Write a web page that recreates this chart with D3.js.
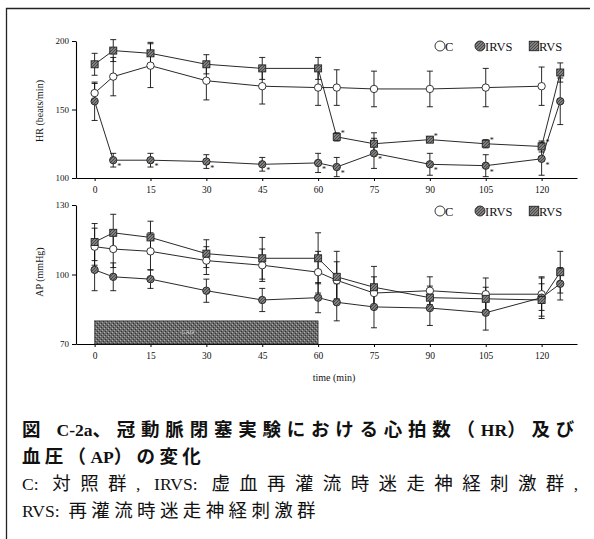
<!DOCTYPE html>
<html>
<head>
<meta charset="utf-8">
<script src="https://cdn.jsdelivr.net/npm/d3@7"></script>
<style>
  body { margin: 0; background: #fff; }
  svg { display: block; }
  .tick text, .axis-label, .legend-text { font-family: "Liberation Serif", serif; fill: #111; }
  .caption { font-family: "Noto Sans CJK JP", sans-serif; fill: #111; }
  .caption .lat { font-family: "Liberation Serif", serif; }
</style>
</head>
<body>
<svg id="chart" width="594" height="539"></svg>
<script>
// time points (min)
const times = [0, 5, 15, 30, 45, 60, 65, 75, 90, 105, 120, 125];
const xTicks = [0, 15, 30, 45, 60, 75, 90, 105, 120];

// heart rate (beats/min), mean and SEM
const hrC = [162, 174, 182, 171, 167, 166, 166, 165, 165, 166, 167];
const hrCErr = [7, 14, 16, 14, 13, 13, 13, 13, 13, 14, 14];
const hrIRVS = [156, 113, 113, 112, 110, 111, 108, 118, 110, 109, 114, 156];
const hrIRVSErr = [14, 5, 5, 5, 5, 7, 7, 11, 8, 8, 12, 17];
const hrRVS = [183, 193, 191, 183, 180, 180, 130, 125, 128, 125, 123, 177];
const hrRVSErr = [8, 8, 8, 7, 8, 8, 3, 8, 2, 3, 4, 7];
const hrIRVSStar = [1, 2, 3, 4, 5, 6, 7, 8, 9, 10];
const hrRVSStar = [6, 8, 9, 10];

// arterial pressure (mmHg), mean and SEM
const apC = [112, 111, 110, 106, 104, 101, 97.5, 92, 93, 91.5, 91.5];
const apCErr = [8, 8, 8, 6, 7, 9, 8, 7, 6, 7, 7];
const apIRVS = [102, 99, 98, 93, 89, 90, 88, 86, 85.5, 83.5, 90, 96];
const apIRVSErr = [9, 6, 4, 5, 5, 6.5, 8, 9, 7.5, 7.5, 9, 7];
const apRVS = [114, 118, 116, 109, 107, 107, 99, 94.5, 90, 89.5, 89, 101];
const apRVSErr = [8, 8, 7, 6, 9, 11, 11, 9, 5, 5, 7, 9];

// occlusion period shown as a bar
const occlusion = { start: 0, end: 60, top: 80, label: "CAO" };

const captionLines = [
  "図 C-2a、冠動脈閉塞実験における心拍数（HR）及び",
  "血圧（AP）の変化",
  "C: 対照群, IRVS: 虚血再灌流時迷走神経刺激群,",
  "RVS: 再灌流時迷走神経刺激群"
];

const svg = d3.select("#chart");
svg.append("rect").attr("width", 594).attr("height", 539).attr("fill", "#fff");

// textures
const defs = svg.append("defs");
const mk = defs.append("pattern").attr("id", "hatch").attr("patternUnits", "userSpaceOnUse")
  .attr("width", 3).attr("height", 3);
mk.append("rect").attr("width", 3).attr("height", 3).attr("fill", "#808080");
mk.append("path").attr("d", "M0,3 L3,0").attr("stroke", "#3a3a3a").attr("stroke-width", 0.8);
const bar = defs.append("pattern").attr("id", "barfill").attr("patternUnits", "userSpaceOnUse")
  .attr("width", 4).attr("height", 4);
bar.append("rect").attr("width", 4).attr("height", 4).attr("fill", "#6a6a6a");
bar.append("rect").attr("x", 0).attr("y", 0).attr("width", 1).attr("height", 1).attr("fill", "#b0b0b0");
bar.append("rect").attr("x", 2).attr("y", 2).attr("width", 1).attr("height", 1).attr("fill", "#a0a0a0");
bar.append("rect").attr("x", 3).attr("y", 1).attr("width", 1).attr("height", 1).attr("fill", "#333");
bar.append("rect").attr("x", 1).attr("y", 3).attr("width", 1).attr("height", 1).attr("fill", "#333");

// frame lines (left and top)
svg.append("line").attr("x1", 6.5).attr("x2", 6.5).attr("y1", 8).attr("y2", 539)
  .attr("stroke", "#222").attr("stroke-width", 1.3);
svg.append("line").attr("x1", 6).attr("x2", 590).attr("y1", 8.5).attr("y2", 8.5)
  .attr("stroke", "#222").attr("stroke-width", 1.3);

const x = d3.scaleLinear().domain([-5, 129.5]).range([76, 577]);

function panel(opts) {
  const y = d3.scaleLinear().domain(opts.yDomain).range(opts.yRange);
  const g = svg.append("g");

  // x axis
  const xa = g.append("g").attr("transform", `translate(0,${opts.yRange[0]})`)
    .call(d3.axisBottom(x).tickValues(xTicks).tickSize(3).tickPadding(5).tickSizeOuter(0));
  xa.select(".domain").attr("stroke-width", 1.1);
  xa.selectAll("text").attr("font-size", 9.5);

  // y axis
  const ya = g.append("g").attr("transform", `translate(76,0)`)
    .call(d3.axisLeft(y).tickValues(opts.yTicks).tickSize(4).tickPadding(3).tickSizeOuter(0));
  ya.select(".domain").attr("stroke-width", 1.1);
  ya.selectAll("text").attr("font-size", 9);

  g.append("text").attr("class", "axis-label")
    .attr("transform", `translate(43,${opts.labelY}) rotate(-90)`)
    .attr("text-anchor", "middle").attr("font-size", 10).text(opts.label);

  if (opts.bar) {
    const b = opts.bar;
    g.append("rect").attr("x", x(b.start)).attr("width", x(b.end) - x(b.start))
      .attr("y", y(b.top)).attr("height", y(opts.yDomain[0]) - y(b.top))
      .attr("fill", "url(#barfill)").attr("stroke", "#333").attr("stroke-width", 0.6);
    g.append("text").attr("x", x(25)).attr("y", (y(b.top) + y(opts.yDomain[0])) / 2 + 2)
      .attr("text-anchor", "middle").attr("font-size", 6).attr("fill", "#ccc")
      .attr("font-family", "Liberation Serif").text(b.label);
  }

  const line = d3.line().x((d) => x(d.t)).y((d) => y(d.v));
  const toPts = (vals, errs) => vals.map((v, i) => ({ t: times[i], v, e: errs[i], i }));

  opts.series.forEach((s) => {
    const pts = toPts(s.values, s.errors);
    g.append("path").datum(pts).attr("d", line).attr("fill", "none")
      .attr("stroke", "#111").attr("stroke-width", 0.9);
    const eb = g.append("g").attr("stroke", "#111").attr("stroke-width", 0.9);
    pts.forEach((d) => {
      const lo = d.v - d.e;
      const hi = d.v + d.e;
      eb.append("line").attr("x1", x(d.t)).attr("x2", x(d.t)).attr("y1", y(lo)).attr("y2", y(hi));
      eb.append("line").attr("x1", x(d.t) - 3).attr("x2", x(d.t) + 3).attr("y1", y(lo)).attr("y2", y(lo));
      eb.append("line").attr("x1", x(d.t) - 3).attr("x2", x(d.t) + 3).attr("y1", y(hi)).attr("y2", y(hi));
    });
  });

  opts.series.forEach((s) => {
    const pts = toPts(s.values, s.errors);
    drawMarkers(g, pts, s.kind, (d) => x(d.t), (d) => y(d.v));
    if (s.stars) {
      s.stars.forEach((i) => {
        g.append("text").attr("x", x(times[i]) + s.starDx).attr("y", y(s.values[i]) + s.starDy)
          .attr("font-size", 8).attr("font-family", "Liberation Serif").attr("fill", "#111").text("*");
      });
    }
  });

  // legend
  const lg = g.append("g").attr("transform", `translate(0,${opts.legendY})`);
  [["C", "open", 440], ["IRVS", "irvs", 480], ["RVS", "rvs", 534]].forEach(([name, kind, lx]) => {
    drawMarkers(lg, [{}], kind, () => lx, () => 0, 1.35);
    lg.append("text").attr("class", "legend-text").attr("x", lx + 5).attr("y", 4.5)
      .attr("font-size", 12.5).text(name);
  });
}

function drawMarkers(g, pts, kind, fx, fy, scale = 1) {
  if (kind === "rvs") {
    const s = 7 * scale;
    g.selectAll(null).data(pts).join("rect")
      .attr("x", (d) => fx(d) - s / 2).attr("y", (d) => fy(d) - s / 2)
      .attr("width", s).attr("height", s)
      .attr("fill", "url(#hatch)").attr("stroke", "#222").attr("stroke-width", 0.9);
  } else {
    g.selectAll(null).data(pts).join("circle")
      .attr("cx", fx).attr("cy", fy).attr("r", 3.7 * scale)
      .attr("fill", kind === "open" ? "#fff" : "url(#hatch)")
      .attr("stroke", "#222").attr("stroke-width", 0.9);
  }
}

panel({
  yDomain: [100, 200], yRange: [178, 41], yTicks: [100, 150, 200],
  label: "HR (beats/min)", labelY: 111, legendY: 46,
  series: [
    { values: hrC, errors: hrCErr, kind: "open" },
    { values: hrIRVS, errors: hrIRVSErr, kind: "irvs", stars: hrIRVSStar, starDx: 4, starDy: 9 },
    { values: hrRVS, errors: hrRVSErr, kind: "rvs", stars: hrRVSStar, starDx: 4, starDy: -1 }
  ]
});

panel({
  yDomain: [70, 130], yRange: [344, 205], yTicks: [70, 100, 130],
  label: "AP (mmHg)", labelY: 272, legendY: 211, bar: occlusion,
  series: [
    { values: apC, errors: apCErr, kind: "open" },
    { values: apIRVS, errors: apIRVSErr, kind: "irvs" },
    { values: apRVS, errors: apRVSErr, kind: "rvs" }
  ]
});

svg.append("text").attr("class", "axis-label").attr("x", 334).attr("y", 381)
  .attr("text-anchor", "middle").attr("font-size", 10).text("time (min)");

// caption: latin runs in a serif face; CJK and spaces spread to fill each line
const capLayout = [
  { y: 435.5, size: 18.5, weight: "bold", width: 558 },
  { y: 462.5, size: 18.5, weight: "bold", width: 183 },
  { y: 489.5, size: 18.5, weight: "normal", width: 556 },
  { y: 516.5, size: 18.5, weight: "normal", width: 298 }
];
captionLines.forEach((txt, i) => {
  const c = capLayout[i];
  const t = svg.append("text").attr("class", "caption").attr("x", 22).attr("y", c.y)
    .attr("font-size", c.size).attr("font-weight", c.weight);
  const runs = txt.match(/[\x21-\x7e]+| +|[^\x20-\x7e]+/g);
  const spread = [];
  runs.forEach((r) => {
    const isSpace = /^ +$/.test(r);
    const latin = /^[\x21-\x7e]+$/.test(r);
    const ts = t.append("tspan").text(isSpace ? r.replace(/ /g, "\u00a0") : r);
    if (latin || isSpace) ts.attr("class", "lat").attr("font-size", c.size * 0.95);
    if (!latin) spread.push(ts);
  });
  const natural = t.node().getComputedTextLength();
  const nChars = d3.sum(spread, (ts) => ts.text().length);
  const ls = Math.max(0, (c.width - natural) / nChars);
  spread.forEach((ts) => ts.attr("letter-spacing", ls));
});
</script>
</body>
</html>
